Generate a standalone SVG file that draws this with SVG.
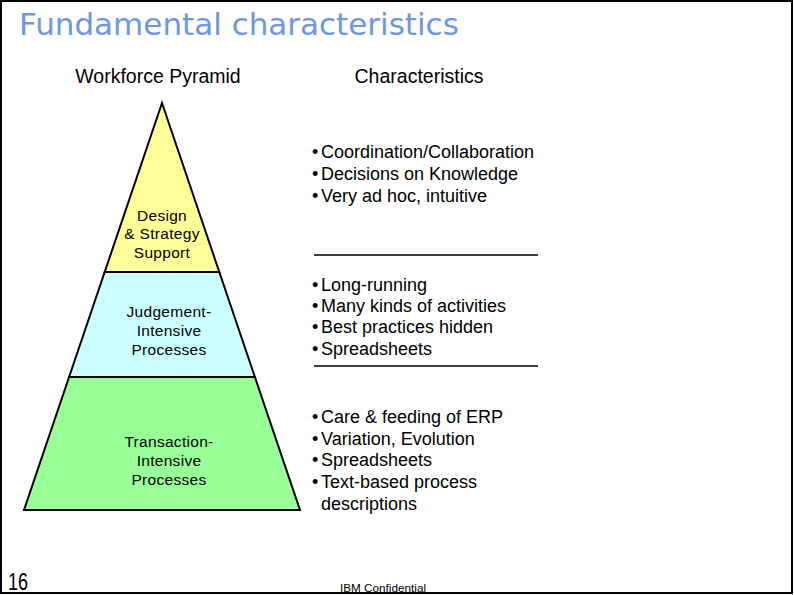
<svg xmlns="http://www.w3.org/2000/svg" width="794" height="595" viewBox="0 0 794 595">
  <style>
    .hdr { font-family: "Liberation Sans", Arial, sans-serif; font-size: 19.5px; fill: #000; text-anchor: middle; }
    .lbl { font-family: "Liberation Sans", Arial, sans-serif; font-size: 15.5px; fill: #000; text-anchor: middle; letter-spacing: 0.3px; }
    .bul { font-family: "Liberation Sans", Arial, sans-serif; font-size: 18px; fill: #000; }
    .tier { stroke: #000; stroke-width: 2; stroke-linejoin: miter; }
    .sep { stroke: #000; stroke-width: 1.3; }
  </style>
  <rect x="0" y="0" width="794" height="595" fill="#fff"/>
  <rect x="1" y="1" width="791" height="592" fill="none" stroke="#000" stroke-width="2"/>

  <text x="19" y="35" font-family="'DejaVu Sans', Verdana, sans-serif" font-size="31" fill="#6e97e0">Fundamental characteristics</text>

  <text class="hdr" x="158" y="83">Workforce Pyramid</text>
  <text class="hdr" x="419" y="83">Characteristics</text>

  <g id="tier-design">
    <polygon class="tier" points="162,103 219.3,272 104.7,272" fill="#ffff99"/>
    <text class="lbl" x="162" y="220.5">Design</text>
    <text class="lbl" x="162" y="239">&amp; Strategy</text>
    <text class="lbl" x="162" y="258">Support</text>
  </g>
  <g id="tier-judgement">
    <polygon class="tier" points="104.7,272 219.3,272 254.9,377 69.1,377" fill="#ccffff"/>
    <text class="lbl" x="169" y="316.5">Judgement-</text>
    <text class="lbl" x="169" y="335.5">Intensive</text>
    <text class="lbl" x="169" y="354.5">Processes</text>
  </g>
  <g id="tier-transaction">
    <polygon class="tier" points="69.1,377 254.9,377 300,510 24,510" fill="#99ff99"/>
    <text class="lbl" x="169" y="446.5">Transaction-</text>
    <text class="lbl" x="169" y="465.5">Intensive</text>
    <text class="lbl" x="169" y="484.5">Processes</text>
  </g>

  <g id="chars-design" class="bul">
    <text x="312" y="157.5">•</text><text x="321" y="157.5">Coordination/Collaboration</text>
    <text x="312" y="179.5">•</text><text x="321" y="179.5">Decisions on Knowledge</text>
    <text x="312" y="201.5">•</text><text x="321" y="201.5">Very ad hoc, intuitive</text>
  </g>
  <g id="chars-judgement" class="bul">
    <text x="312" y="290.5">•</text><text x="321" y="290.5">Long-running</text>
    <text x="312" y="311.5">•</text><text x="321" y="311.5">Many kinds of activities</text>
    <text x="312" y="333">•</text><text x="321" y="333">Best practices hidden</text>
    <text x="312" y="354.5">•</text><text x="321" y="354.5">Spreadsheets</text>
  </g>
  <g id="chars-transaction" class="bul">
    <text x="312" y="422.5">•</text><text x="321" y="422.5">Care &amp; feeding of ERP</text>
    <text x="312" y="444.5">•</text><text x="321" y="444.5">Variation, Evolution</text>
    <text x="312" y="466">•</text><text x="321" y="466">Spreadsheets</text>
    <text x="312" y="488">•</text><text x="321" y="488">Text-based process</text>
    <text x="321" y="509.5">descriptions</text>
  </g>

  <g id="connectors">
    <line class="sep" x1="314" y1="255" x2="538" y2="255"/>
    <line class="sep" x1="314" y1="366" x2="538" y2="366"/>
  </g>

  <text x="8" y="590" font-family="'Liberation Sans', Arial, sans-serif" font-size="23" fill="#000" textLength="20" lengthAdjust="spacingAndGlyphs">16</text>
  <text x="340" y="592" font-family="'Liberation Sans', Arial, sans-serif" font-size="11.5" fill="#000" textLength="86" lengthAdjust="spacingAndGlyphs">IBM Confidential</text>
</svg>
